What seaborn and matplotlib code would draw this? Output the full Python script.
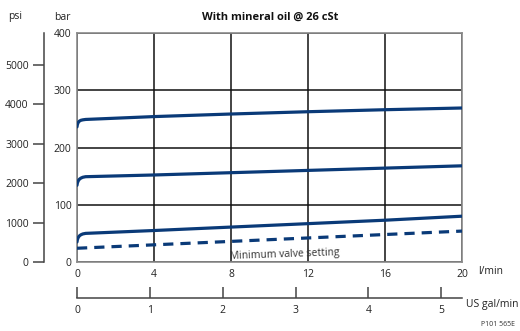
import pandas as pd
import matplotlib.pyplot as plt
import seaborn as sns

# Values (flow in l/min, pressure in bar)
flow = [0, 0.02, 0.06, 0.12, 0.2, 0.3, 0.45, 4, 8, 12, 16, 20]
high_setting = [236, 240, 243.5, 246, 247.5, 248.3, 249, 254, 258.5, 262.5, 266, 269]
mid_setting = [134, 138, 141.5, 144.5, 146.5, 148, 149, 152, 156, 160, 164, 168]
low_setting = [35, 39, 42.5, 45.5, 47.5, 49, 50, 55, 61, 67, 73, 80]

min_flow = [0, 4, 8, 12, 16, 20]
min_setting = [24, 30, 36, 42, 48, 54]

lpm_ticks = [0, 4, 8, 12, 16, 20]
bar_ticks = [0, 100, 200, 300, 400]
psi_ticks = [0, 1000, 2000, 3000, 4000, 5000]
gpm_ticks = [0, 1, 2, 3, 4, 5]

PSI_PER_BAR = 14.5038
LPM_PER_GPM = 3.78541

sns.set_style("white")
plt.rcParams['font.family'] = ['Open Sans', 'DejaVu Sans']
plt.rcParams['font.size'] = 7.5

navy = '#0a3a78'
spine_grey = '#8a8a8a'

curves = pd.DataFrame({
    'flow': flow * 3,
    'pressure': high_setting + mid_setting + low_setting,
    'setting': ['high'] * len(flow) + ['mid'] * len(flow) + ['low'] * len(flow),
})
min_df = pd.DataFrame({'flow': min_flow, 'pressure': min_setting})

fig = plt.figure(figsize=(5.2, 3.31), dpi=100)
ax = fig.add_axes([77 / 520, 1 - 262 / 331, 385 / 520, 229 / 331])

sns.lineplot(data=curves, x='flow', y='pressure', units='setting', estimator=None,
             color=navy, linewidth=2.3, ax=ax, zorder=3)
sns.lineplot(data=min_df, x='flow', y='pressure', color=navy, linewidth=2.3,
             ax=ax, zorder=3, dashes=False)
ax.lines[-1].set_dashes((3.2, 2.2))
ax.lines[-1].set_solid_capstyle('butt')
for ln in ax.lines[:-1]:
    ln.set_solid_capstyle('round')
    ln.set_solid_joinstyle('round')

ax.set_xlim(0, 20)
ax.set_ylim(0, 400)
ax.set_xticks(lpm_ticks)
ax.set_yticks(bar_ticks)
ax.set_xlabel('')
ax.set_ylabel('')
ax.grid(True, color='#111111', linewidth=1.1)
ax.tick_params(axis='both', length=0, pad=4, labelsize=7.5, colors='#222222')
ax.tick_params(axis='x', pad=5)
for s in ax.spines.values():
    s.set_color(spine_grey)
    s.set_linewidth(1.2)

ax.text(10.8, 13, 'Minimum valve setting', ha='center', va='center',
        rotation=2, fontsize=7.5, color='#333333')

# psi axis on the far left
psi_ax = ax.secondary_yaxis(-33 / 385, functions=(lambda b: b * PSI_PER_BAR,
                                                  lambda p: p / PSI_PER_BAR))
psi_ax.set_yticks(psi_ticks)
psi_ax.tick_params(axis='y', direction='out', length=8, width=1.1, color='#444444',
                   labelsize=7.5, labelcolor='#222222', pad=3)
psi_ax.spines['left'].set_color('#444444')
psi_ax.spines['left'].set_linewidth(1.1)

# US gal/min axis below
gpm_ax = ax.secondary_xaxis(-36 / 229, functions=(lambda l: l / LPM_PER_GPM,
                                                  lambda g: g * LPM_PER_GPM))
gpm_ax.set_xticks(gpm_ticks)
gpm_ax.tick_params(axis='x', direction='in', length=8, width=1.1, color='#444444',
                   labelsize=7.5, labelcolor='#222222', pad=5)
gpm_ax.spines['bottom'].set_color('#444444')
gpm_ax.spines['bottom'].set_linewidth(1.1)

fig.text(270 / 520, 1 - 17 / 331, 'With mineral oil @ 26 cSt', ha='center', va='center',
         fontsize=8, fontweight='bold', color='#111111')
fig.text(15 / 520, 1 - 17 / 331, 'psi', ha='center', va='center', fontsize=7.5, color='#222222')
fig.text(62 / 520, 1 - 17 / 331, 'bar', ha='center', va='center', fontsize=7.5, color='#222222')
fig.text(478 / 520, 1 - 272 / 331, 'l/min', ha='left', va='center', fontsize=7.5, color='#222222')
fig.text(466 / 520, 1 - 305 / 331, 'US gal/min', ha='left', va='center', fontsize=7.5, color='#222222')
fig.text(498 / 520, 1 - 325 / 331, 'P101 565E', ha='center', va='center', fontsize=5, color='#333333')

fig.savefig('out.png', dpi=100)
